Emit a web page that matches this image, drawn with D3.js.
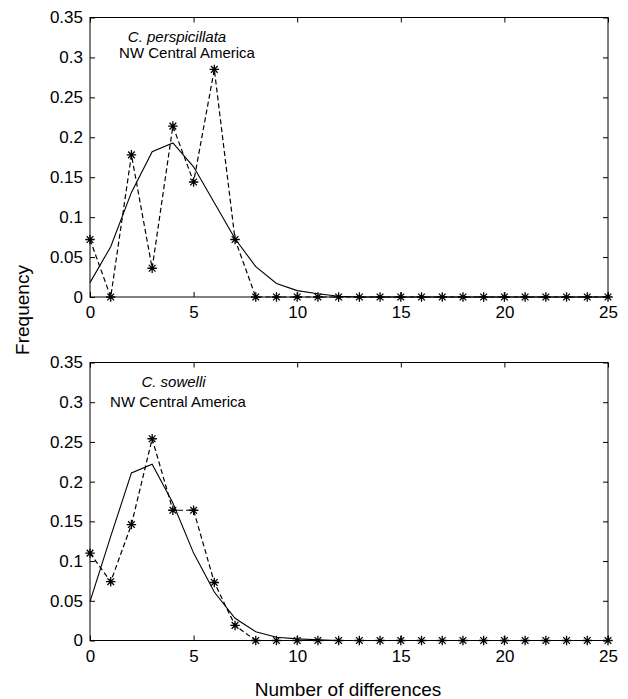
<!DOCTYPE html>
<html>
<head>
<meta charset="utf-8">
<script src="https://cdn.jsdelivr.net/npm/d3@7"></script>
<style>
  html, body { margin: 0; padding: 0; background: #fff; }
  svg { display: block; }
  text { font-family: "Liberation Sans", Arial, Helvetica, sans-serif; fill: #000; }
</style>
</head>
<body>
<svg id="chart" width="628" height="699"></svg>
<script>
// ---- data ----
const differences = d3.range(0, 26); // 0..25
const xTicks = [0, 5, 10, 15, 20, 25];
const yTicks = [0, 0.05, 0.1, 0.15, 0.2, 0.25, 0.3, 0.35];
const yTickLabels = ["0", "0.05", "0.1", "0.15", "0.2", "0.25", "0.3", "0.35"];

// C. perspicillata — observed (dashed, asterisks) and expected (solid)
const perspObserved = [0.072, 0, 0.178, 0.036, 0.214, 0.144, 0.285, 0.072,
  0, 0, 0, 0, 0, 0, 0, 0, 0, 0, 0, 0, 0, 0, 0, 0, 0, 0];
const perspExpected = [0.018, 0.063, 0.131, 0.182, 0.193, 0.163, 0.118, 0.073,
  0.038, 0.017, 0.008, 0.004, 0.001, 0, 0, 0, 0, 0, 0, 0, 0, 0, 0, 0, 0, 0];

// C. sowelli — observed (dashed, asterisks) and expected (solid)
const sowelliObserved = [0.110, 0.074, 0.146, 0.254, 0.164, 0.164, 0.073, 0.019,
  0, 0, 0, 0, 0, 0, 0, 0, 0, 0, 0, 0, 0, 0, 0, 0, 0, 0];
const sowelliExpected = [0.049, 0.131, 0.211, 0.222, 0.173, 0.110, 0.061, 0.028,
  0.011, 0.004, 0.002, 0.001, 0, 0, 0, 0, 0, 0, 0, 0, 0, 0, 0, 0, 0, 0];

const panels = [
  { species: "C. perspicillata", region: "NW Central America",
    observed: perspObserved, expected: perspExpected,
    top: 17.5, bottom: 297, spX: 177, spY: 41.5, rgX: 187, rgY: 58 },
  { species: "C. sowelli", region: "NW Central America",
    observed: sowelliObserved, expected: sowelliExpected,
    top: 362.5, bottom: 640.5, spX: 173.5, spY: 386.5, rgX: 178, rgY: 406.5 }
];

const svg = d3.select("#chart");
const left = 90, right = 608;
const tickLen = 5;

const x = d3.scaleLinear().domain([0, 25]).range([left, right]);

// MATLAB-like asterisk (plus + times)
const asterisk = {
  draw(ctx, size) {
    const r = Math.sqrt(size) / 2;
    const d = r * 0.7071;
    ctx.moveTo(-r, 0); ctx.lineTo(r, 0);
    ctx.moveTo(0, -r); ctx.lineTo(0, r);
    ctx.moveTo(-d, -d); ctx.lineTo(d, d);
    ctx.moveTo(-d, d); ctx.lineTo(d, -d);
  }
};

panels.forEach(p => {
  const y = d3.scaleLinear().domain([0, 0.35]).range([p.bottom, p.top]);
  const g = svg.append("g");

  // box
  g.append("rect")
    .attr("x", left).attr("y", p.top)
    .attr("width", right - left).attr("height", p.bottom - p.top)
    .attr("fill", "none").attr("stroke", "#000").attr("stroke-width", 1);

  // bottom axis (ticks inside)
  const xb = g.append("g").attr("transform", `translate(0,${p.bottom})`)
    .call(d3.axisBottom(x).tickValues(xTicks).tickSize(-tickLen).tickPadding(0).tickFormat(d3.format("d")));
  xb.select(".domain").remove();
  xb.selectAll("text").attr("dy", null).attr("y", 21).style("font-size", "17px")
    .attr("font-family", null);
  // top ticks
  const xt = g.append("g").attr("transform", `translate(0,${p.top})`)
    .call(d3.axisTop(x).tickValues(xTicks).tickSize(-tickLen).tickFormat(""));
  xt.select(".domain").remove();

  // left axis
  const yl = g.append("g").attr("transform", `translate(${left},0)`)
    .call(d3.axisLeft(y).tickValues(yTicks).tickSize(-tickLen).tickPadding(7)
      .tickFormat((d, i) => yTickLabels[i]));
  yl.select(".domain").remove();
  yl.selectAll("text").style("font-size", "17px").attr("font-family", null);
  // right ticks
  const yr = g.append("g").attr("transform", `translate(${right},0)`)
    .call(d3.axisRight(y).tickValues(yTicks).tickSize(-tickLen).tickFormat(""));
  yr.select(".domain").remove();

  g.selectAll(".tick line").attr("stroke", "#000");

  // expected (solid)
  const line = d3.line().x((d, i) => x(differences[i])).y(d => y(d));
  g.append("path").datum(p.expected)
    .attr("d", line).attr("fill", "none").attr("stroke", "#000").attr("stroke-width", 1.1);

  // observed (dashed)
  g.append("path").datum(p.observed)
    .attr("d", line).attr("fill", "none").attr("stroke", "#000")
    .attr("stroke-width", 1.2).attr("stroke-dasharray", "5,3");

  // asterisk markers
  g.selectAll(".mk").data(p.observed).enter().append("path")
    .attr("transform", (d, i) => `translate(${x(differences[i])},${y(d)})`)
    .attr("d", d3.symbol().type(asterisk).size(90))
    .attr("fill", "none").attr("stroke", "#000").attr("stroke-width", 1.3);

  // annotations
  g.append("text").attr("x", p.spX).attr("y", p.spY).attr("text-anchor", "middle")
    .style("font-size", "15px").style("font-style", "italic").text(p.species);
  g.append("text").attr("x", p.rgX).attr("y", p.rgY).attr("text-anchor", "middle")
    .style("font-size", "15px").text(p.region);
});

// axis titles
svg.append("text").attr("transform", "translate(29,310) rotate(-90)")
  .attr("text-anchor", "middle").style("font-size", "19px").text("Frequency");
svg.append("text").attr("x", 348).attr("y", 696)
  .attr("text-anchor", "middle").style("font-size", "19px").text("Number of differences");
</script>
</body>
</html>
